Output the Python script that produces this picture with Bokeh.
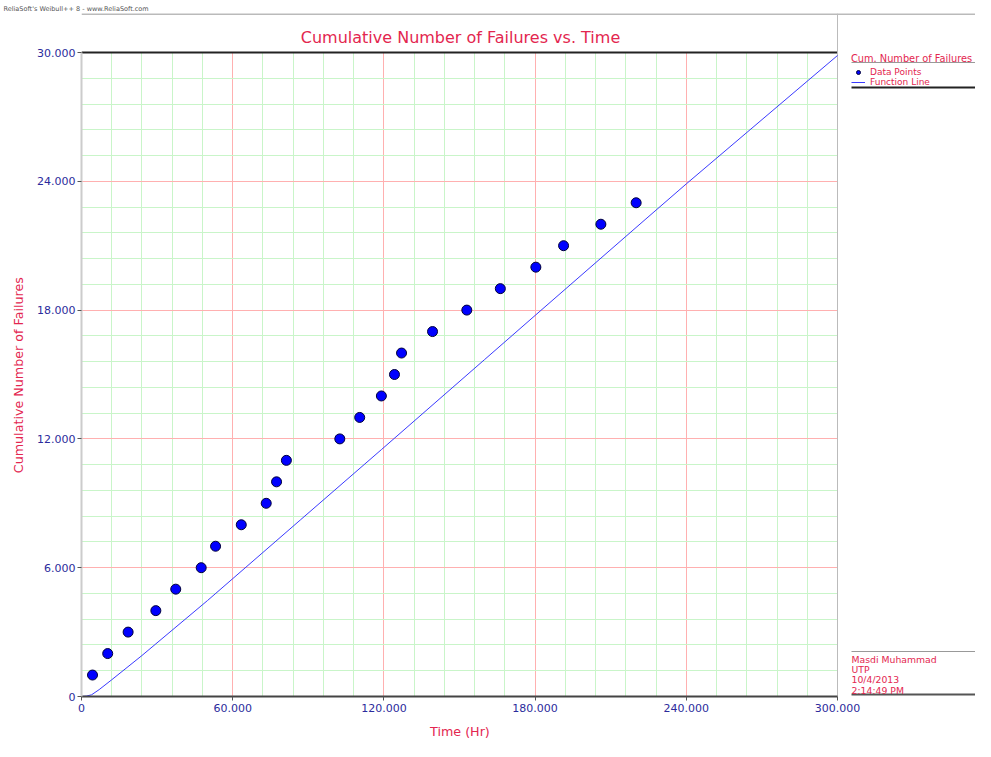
from bokeh.plotting import figure
from bokeh.models import (Range1d, SingleIntervalTicker, Label, Legend,
                          LegendItem, Title)
from bokeh.embed import file_html
from bokeh.resources import INLINE

# ---------------- data ----------------
time_hr = [4370, 10400, 18500, 29500, 37400, 47500, 53200, 63400, 73300, 77400,
           81300, 102500, 110400, 119000, 124200, 127000, 139300, 152900,
           166200, 180300, 191300, 206100, 220100]
cum_failures = [1, 2, 3, 4, 5, 6, 7, 8, 9, 10, 11, 12, 13, 14, 15, 16, 17, 18,
                19, 20, 21, 22, 23]

line_time = [0, 2000, 4000, 7000, 12000, 24000, 50000, 87000, 119000, 160000,
             180000, 224000, 240000, 300000]
line_cum = [0, 0.02, 0.08, 0.32, 0.78, 1.91, 4.47, 8.24, 11.5, 15.7, 17.75,
            22.25, 23.88, 29.86]

x_ticks = [0, 60000, 120000, 180000, 240000, 300000]
x_tick_labels = ["0", "60.000", "120.000", "180.000", "240.000", "300.000"]
y_ticks = [0, 6, 12, 18, 24, 30]
y_tick_labels = ["0", "6.000", "12.000", "18.000", "24.000", "30.000"]

title_text = "Cumulative Number of Failures vs. Time"
x_label = "Time (Hr)"
y_label = "Cumulative Number of Failures"
legend_title = "Cum. Number of Failures"
series_names = ["Data Points", "Function Line"]
stamp_lines = ["Masdi Muhammad", "UTP", "10/4/2013", "2:14:49 PM"]
header_text = "ReliaSoft's Weibull++ 8 - www.ReliaSoft.com"

# ---------------- style ----------------
RED = "#e3264f"
NAVY = "#2b2b9c"
FONT = "DejaVu Sans"
NBSP = "\u00a0"

W, H = 975, 741
X_MAX, Y_MAX = 300000, 30
FRAME_TOP = 13

# picture-pixel -> data helpers (used for decorations only)
def dx(px):
    return (px - 81) / (837 - 81) * X_MAX

def dy(py):
    return (696 - py) / (696 - 52) * Y_MAX

# the frame covers the canvas right of the y axis and above the x axis;
# the data area (0..300000, 0..30) is a sub-region, side panel to its right
p = figure(width=W, height=H, output_backend="svg", toolbar_location=None,
           x_range=Range1d(0, dx(W)), y_range=Range1d(0, dy(FRAME_TOP)),
           min_border_left=81, min_border_right=0,
           min_border_top=FRAME_TOP, min_border_bottom=H - 696)
p.outline_line_color = None
p.background_fill_color = "white"
p.border_fill_color = "white"

p.add_layout(Title(text=header_text, align="left", offset=-78, standoff=2,
                   text_font=FONT, text_font_size="6.5px",
                   text_color="#555555", text_font_style="normal"), "above")

p.xaxis.ticker = SingleIntervalTicker(interval=60000, num_minor_ticks=5)
p.yaxis.ticker = SingleIntervalTicker(interval=6, num_minor_ticks=5)
p.xaxis.major_label_overrides = dict(zip(x_ticks, x_tick_labels))
p.yaxis.major_label_overrides = dict(zip(y_ticks, y_tick_labels))
p.xaxis.bounds = (0, X_MAX)
p.yaxis.bounds = (0, Y_MAX)

for ax in (p.xaxis[0], p.yaxis[0]):
    ax.major_label_text_color = NAVY
    ax.major_label_text_font = FONT
    ax.major_label_text_font_size = "11px"
    ax.axis_label_text_color = RED
    ax.axis_label_text_font = FONT
    ax.axis_label_text_font_size = "12.7px"
    ax.axis_label_text_font_style = "normal"
    ax.major_tick_in = 0
    ax.major_tick_out = 4
    ax.minor_tick_in = 0
    ax.minor_tick_out = 0
    ax.major_tick_line_color = "#555555"

# axis labels are centred on the whole frame; pad with non-breaking spaces so
# the visible text sits centred on the data area as in the original
p.xaxis.axis_label = x_label + NBSP * 34
p.yaxis.axis_label = y_label + NBSP * 10
p.xaxis.axis_line_color = "#444444"
p.xaxis.axis_line_width = 2
p.yaxis.axis_line_color = "#cccccc"
p.yaxis.axis_line_width = 2
p.xaxis.major_label_standoff = 3
p.yaxis.major_label_standoff = 2
p.xaxis.axis_label_standoff = 9
p.yaxis.axis_label_standoff = 8

for g in (p.xgrid[0], p.ygrid[0]):
    g.grid_line_color = "#ffb0b0"
    g.minor_grid_line_color = "#c9f5c9"
p.xgrid.bounds = (0, X_MAX)
p.xgrid.cross_bounds = (0, Y_MAX)
p.ygrid.bounds = (0, Y_MAX)
p.ygrid.cross_bounds = (0, X_MAX)

# ---------------- decorations (lines) ----------------
def seg(x0, y0, x1, y1, color, width=1):
    p.segment(x0=[dx(x0)], y0=[dy(y0)], x1=[dx(x1)], y1=[dy(y1)],
              line_color=color, line_width=width)

seg(81, 52, 837, 52, "#222222", 2)       # top frame line
seg(81, 13.5, 991, 13.5, "#777777", 1)   # header rule
seg(837, 13, 837, 696, "#bbbbbb", 1)     # right separator
seg(851, 62, 980, 62, "#999999", 1)      # legend title underline
seg(851, 87, 980, 87, "#222222", 2)      # legend bottom rule
seg(851, 651, 980, 651, "#999999", 1)    # stamp top rule
seg(851, 694, 980, 694, "#555555", 2)    # stamp bottom rule

# ---------------- series ----------------
r_line = p.line(line_time, line_cum, line_color="#3a3aff", line_width=1)
r_pts = p.scatter(time_hr, cum_failures, size=10, fill_color="#0000ff",
                  line_color="#00003a", line_width=1)

# ---------------- texts ----------------
p.add_layout(Label(x=dx(460), y=dy(37), text=title_text, text_font=FONT,
                   text_font_size="16px", text_color=RED, text_align="center",
                   text_baseline="middle"))

for i, t in enumerate(stamp_lines):
    p.add_layout(Label(x=dx(851), y=dy(658.5 + i * 10.4), text=t,
                       text_font=FONT, text_font_size="9.3px", text_color=RED,
                       text_baseline="middle"))

legend = Legend(items=[LegendItem(label=series_names[0], renderers=[r_pts]),
                       LegendItem(label=series_names[1], renderers=[r_line])],
                title=legend_title, location=(770, 609), padding=0, margin=0,
                spacing=0, background_fill_alpha=0, border_line_color=None,
                label_text_font=FONT, label_text_font_size="9px",
                label_text_color=RED, title_text_font=FONT,
                title_text_font_size="9.8px", title_text_color=RED,
                title_text_font_style="normal", glyph_height=10,
                glyph_width=14, label_height=10, label_standoff=5,
                title_standoff=3)
p.add_layout(legend, "center")

open("out.html", "w").write(file_html(p, INLINE))
